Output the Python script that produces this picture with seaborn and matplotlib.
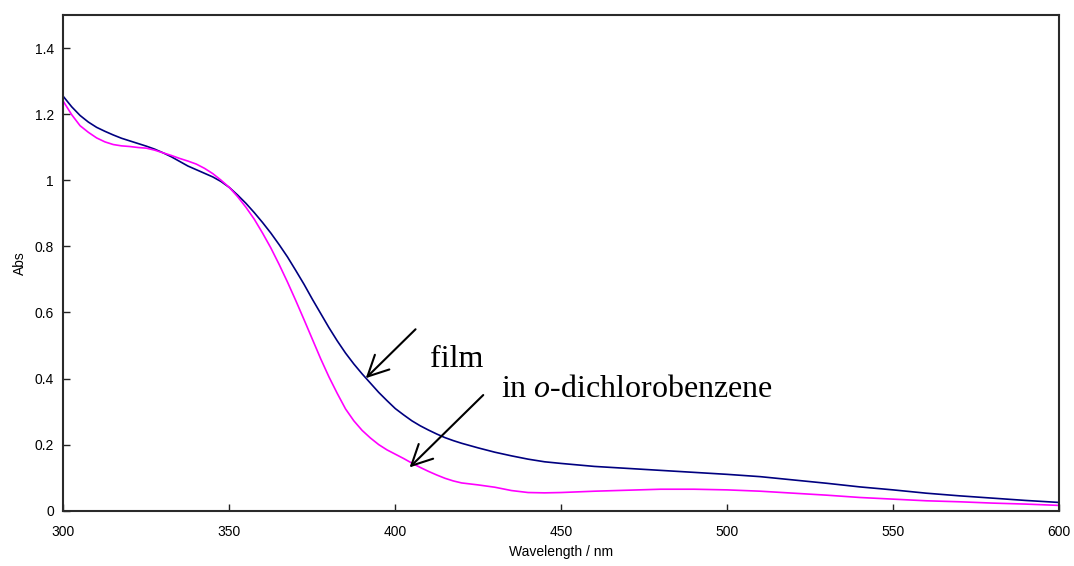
import pandas as pd
import matplotlib
matplotlib.use('Agg')
import matplotlib.pyplot as plt
import matplotlib.ticker as mticker
import seaborn as sns

# wavelength grid (nm) and absorbance
wavelength = [300, 302.5, 305, 307.5, 310, 312.5, 315, 317.5, 320, 322.5, 325, 327.5,
              330, 332.5, 335, 337.5, 340, 342.5, 345, 347.5, 350, 352.5, 355, 357.5,
              360, 362.5, 365, 367.5, 370, 372.5, 375, 377.5, 380, 382.5, 385, 387.5,
              390, 392.5, 395, 397.5, 400, 402.5, 405, 407.5, 410, 412.5, 415, 417.5,
              420, 425, 430, 435, 440, 445, 450, 460, 470, 480, 490, 500, 510, 520,
              530, 540, 550, 560, 570, 580, 590, 600]

abs_film = [1.253, 1.222, 1.196, 1.176, 1.160, 1.148, 1.137, 1.127, 1.119, 1.111, 1.103, 1.094,
            1.083, 1.071, 1.057, 1.043, 1.032, 1.021, 1.010, 0.996, 0.978, 0.955, 0.930, 0.902,
            0.872, 0.840, 0.805, 0.768, 0.727, 0.685, 0.640, 0.597, 0.554, 0.514, 0.477, 0.444,
            0.414, 0.386, 0.358, 0.333, 0.309, 0.290, 0.272, 0.257, 0.244, 0.232, 0.221, 0.212,
            0.204, 0.190, 0.177, 0.166, 0.156, 0.148, 0.143, 0.134, 0.128, 0.122, 0.116, 0.110,
            0.103, 0.093, 0.083, 0.072, 0.063, 0.053, 0.045, 0.038, 0.031, 0.025]

abs_solution = [1.238, 1.198, 1.165, 1.145, 1.128, 1.116, 1.108, 1.104, 1.102, 1.099, 1.097, 1.091,
                1.083, 1.075, 1.066, 1.058, 1.049, 1.036, 1.020, 1.000, 0.978, 0.950, 0.918, 0.882,
                0.840, 0.795, 0.745, 0.692, 0.636, 0.578, 0.519, 0.460, 0.405, 0.355, 0.308, 0.272,
                0.243, 0.220, 0.200, 0.184, 0.171, 0.158, 0.144, 0.131, 0.119, 0.108, 0.098, 0.090,
                0.084, 0.078, 0.071, 0.061, 0.055, 0.054, 0.055, 0.059, 0.062, 0.065, 0.065, 0.063,
                0.059, 0.053, 0.047, 0.040, 0.035, 0.030, 0.027, 0.023, 0.020, 0.016]

x_ticks = [300, 350, 400, 450, 500, 550, 600]
y_ticks = [0, 0.2, 0.4, 0.6, 0.8, 1.0, 1.2, 1.4]

sns.set_style('ticks')
plt.rcParams['font.family'] = ['Liberation Sans', 'DejaVu Sans']
plt.rcParams['text.color'] = 'black'
plt.rcParams['axes.labelcolor'] = 'black'
plt.rcParams['mathtext.fontset'] = 'custom'
plt.rcParams['mathtext.rm'] = 'Liberation Serif'
plt.rcParams['mathtext.it'] = 'Liberation Serif:italic'

df = pd.DataFrame({'wl': wavelength, 'film': abs_film, 'solution': abs_solution})

fig = plt.figure(figsize=(10.74, 5.66), dpi=100)
ax = fig.add_axes([0.0591, 0.0977, 0.9269, 0.8758])

sns.lineplot(data=df, x='wl', y='film', color='#000080', linewidth=1.2, ax=ax)
sns.lineplot(data=df, x='wl', y='solution', color='#FF00FF', linewidth=1.2, ax=ax)

ax.set_xlim(300, 600)
ax.set_ylim(0, 1.5)
ax.set_xticks(x_ticks)
ax.set_yticks(y_ticks)
ax.yaxis.set_major_formatter(mticker.FuncFormatter(lambda v, p: '{:g}'.format(round(v, 1))))
ax.tick_params(axis='both', direction='in', length=5, width=1, colors='#222222', labelsize=10,
               labelcolor='black')
ax.tick_params(axis='x', pad=10)
ax.tick_params(axis='y', pad=7)

for s in ax.spines.values():
    s.set_visible(True)
    s.set_linewidth(1.5)
    s.set_color('#2a2a2a')

ax.set_xlabel('Wavelength / nm', fontsize=10, labelpad=4.5)
ax.set_ylabel('Abs', fontsize=10, labelpad=5)

# arrows and labels
arrow = dict(arrowstyle='->, head_length=0.38, head_width=0.19', color='black', lw=1.5,
             mutation_scale=39, shrinkA=0, shrinkB=0)
ax.annotate('', xy=(391.1, 0.401), xytext=(406.1, 0.549), arrowprops=arrow)
ax.annotate('', xy=(404.3, 0.131), xytext=(426.5, 0.350), arrowprops=arrow)

ax.text(410.6, 0.434, 'film', fontsize=23, family=['Liberation Serif'], va='baseline',
        color='black')
ax.text(432.0, 0.343, r'in $\it{o}$-dichlorobenzene', fontsize=23,
        family=['Liberation Serif'], va='baseline', color='black')

fig.savefig('out.png', dpi=100)
